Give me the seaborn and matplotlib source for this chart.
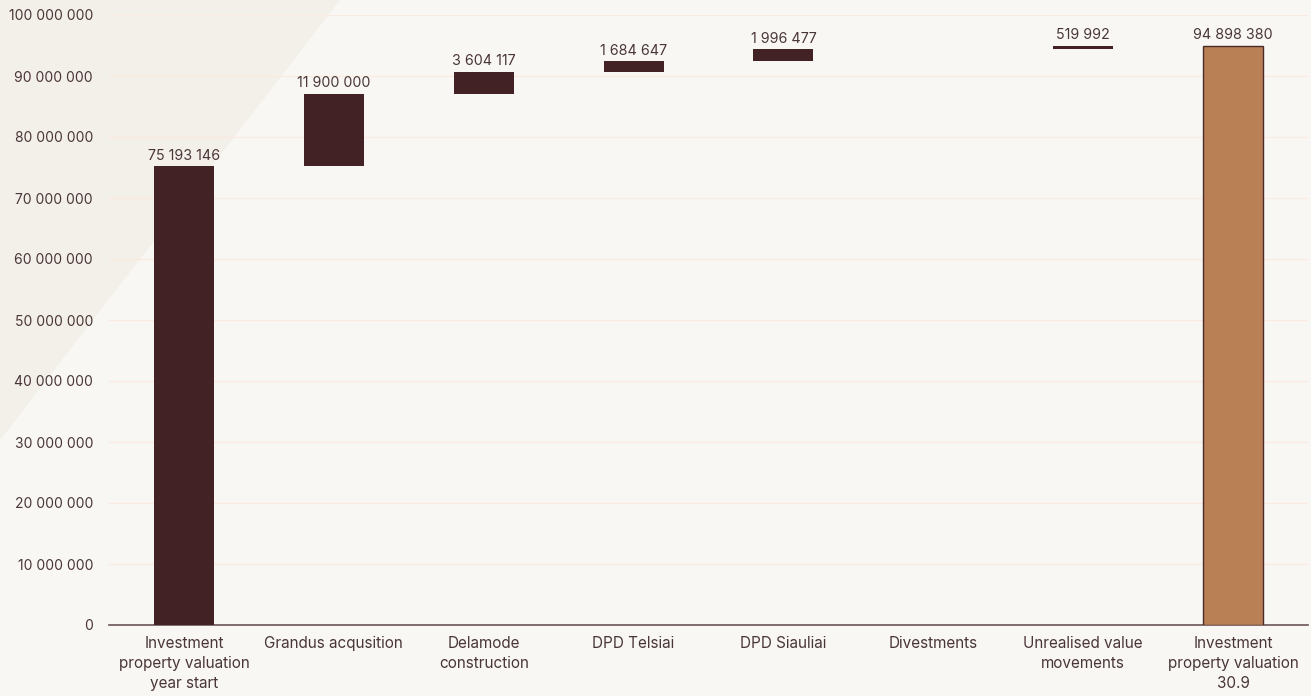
import numpy as np
import pandas as pd
import seaborn as sns
import matplotlib.pyplot as plt
from matplotlib.patches import Polygon

# waterfall steps
categories = ["Investment\nproperty valuation\nyear start", "Grandus acqusition",
              "Delamode\nconstruction", "DPD Telsiai", "DPD Siauliai", "Divestments",
              "Unrealised value\nmovements", "Investment\nproperty valuation\n30.9"]
changes = [75193146, 11900000, 3604117, 1684647, 1996477, 0, 519992, 94898380]
kinds = ["total", "step", "step", "step", "step", "step", "step", "total"]
ytick_values = list(range(0, 100000001, 10000000))

# bottoms of each bar (running total for steps)
bottoms = []
running = 0
for v, k in zip(changes, kinds):
    if k == "total":
        bottoms.append(0)
        running = v
    else:
        bottoms.append(running)
        running += v

df = pd.DataFrame({"category": categories, "change": changes, "bottom": bottoms})

def fmt(v):
    return f"{v:,.0f}".replace(",", " ")

bg = "#F8F7F3"
dark = "#422224"
tan = "#B98055"
txt = "#4A3638"

sns.set_theme(style="white")
plt.rcParams["font.family"] = ["Inter", "DejaVu Sans"]

fig = plt.figure(figsize=(13.11, 6.96), dpi=100)
fig.patch.set_facecolor(bg)
# lighter diagonal wedge at top-left
fig.patches.append(Polygon([(0, 1), (340 / 1311, 1), (0, 1 - 440 / 696)], closed=True,
                           transform=fig.transFigure, facecolor="#F3EFE9", edgecolor="none", zorder=-5))

ax = fig.add_axes([109 / 1311, 1 - 625 / 696, 1199 / 1311, 610 / 696])
ax.set_facecolor("none")

sns.barplot(data=df, x="category", y="change", color=dark, bottom=df["bottom"].values,
            width=0.4, saturation=1, ax=ax, linewidth=0, zorder=3)
last = ax.patches[-1]
last.set_facecolor(tan)
last.set_edgecolor("#4A2A28")
last.set_linewidth(1)

for i, (v, b) in enumerate(zip(changes, bottoms)):
    if v == 0:
        continue
    ax.text(i, b + v + 600000, fmt(v), ha="center", va="bottom", fontsize=10.3, color=txt, zorder=4)

ax.set_ylim(0, 100000000)
ax.set_xlim(-0.5, len(categories) - 0.5)
ax.set_yticks(ytick_values)
ax.set_yticklabels([fmt(t) for t in ytick_values])
ax.yaxis.grid(True, color="#FBEAE2", linewidth=1)
ax.set_axisbelow(True)
ax.set_xlabel("")
ax.set_ylabel("")
for s in ["top", "right", "left"]:
    ax.spines[s].set_visible(False)
ax.spines["bottom"].set_color("#6B5557")
ax.spines["bottom"].set_linewidth(1.2)
ax.tick_params(axis="y", length=0, pad=11.5, labelsize=10, labelcolor=txt)
ax.tick_params(axis="x", length=0, pad=8, labelsize=11, labelcolor=txt)
for lab in ax.get_xticklabels():
    lab.set_linespacing(1.4)

fig.savefig("out.png", dpi=100, facecolor=bg)
